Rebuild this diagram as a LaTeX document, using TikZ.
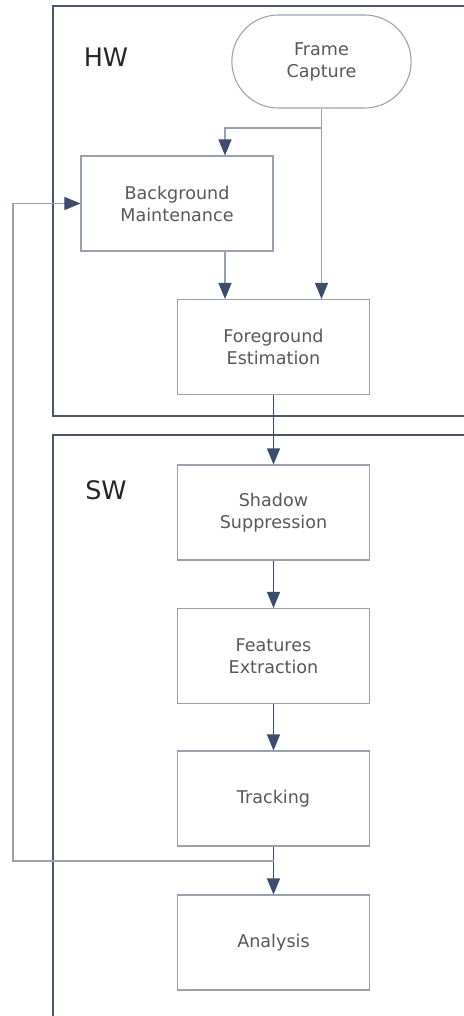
\documentclass[tikz,border=0pt]{standalone}
\usepackage{fontspec}
\setmainfont{DejaVu Sans}
\usetikzlibrary{arrows.meta, shapes.misc}
\definecolor{linegray}{HTML}{9AA0AD}
\definecolor{framenavy}{HTML}{4A5570}
\definecolor{headnavy}{HTML}{3D4C6D}
\definecolor{textgray}{HTML}{585858}

\begin{document}
\begin{tikzpicture}[x=0.2mm, y=-0.2mm,
    stepbox/.style={draw=linegray, line width=0.6pt, rectangle, minimum width=38.4mm, minimum height=19mm, align=center, text=textgray, font=\fontsize{10}{12.5}\selectfont},
    termbox/.style={stepbox, rounded rectangle, minimum width=38.2mm, minimum height=18.6mm},
    flow/.style={draw=linegray, line width=0.6pt, -{Triangle[length=3.2mm, width=2.6mm, color=headnavy]}},
    flowdark/.style={flow, draw=headnavy},
    part/.style={draw=framenavy, line width=0.6pt},
    partlabel/.style={font=\fontsize{14.5}{16}\selectfont, text=black!85}]
    \useasboundingbox (0,0) rectangle (464,1016);

    % HW / SW frames, open to the right
    \draw[part] (470,6) -- (53,6) -- (53,416) -- (470,416);
    \draw[part] (470,435) -- (53,435) -- (53,1020);
    \node[partlabel] (hw) at (106,57) {HW};
    \node[partlabel] (sw) at (106,490) {SW};

    \node[termbox] (capture) at (321.5,61.5) {Frame\\Capture};
    \node[stepbox] (bgmaint) at (177,203.5) {Background\\Maintenance};
    \node[stepbox] (fgest) at (273.5,347) {Foreground\\Estimation};
    \node[stepbox] (shadow) at (273.5,512.5) {Shadow\\Suppression};
    \node[stepbox] (features) at (273.5,656) {Features\\Extraction};
    \node[stepbox] (tracking) at (273.5,798.5) {Tracking};
    \node[stepbox] (analysis) at (273.5,942.5) {Analysis};

    \coordinate (split) at (capture.south |- 0,128);
    \coordinate (back) at (tracking.south |- 0,861);

    \draw[flow] (capture.south) -- (capture.south |- fgest.north);
    \draw[flow] (split) -| (bgmaint.north -| 225,0);
    \draw[flow] (bgmaint.south -| 225,0) -- (fgest.north -| 225,0);
    \draw[flowdark] (fgest) -- (shadow);
    \draw[flowdark] (shadow) -- (features);
    \draw[flowdark] (features) -- (tracking);
    \draw[flowdark] (tracking) -- (analysis);
    \draw[flow] (back) -- (13,861) |- (bgmaint.west);
\end{tikzpicture}
\end{document}
